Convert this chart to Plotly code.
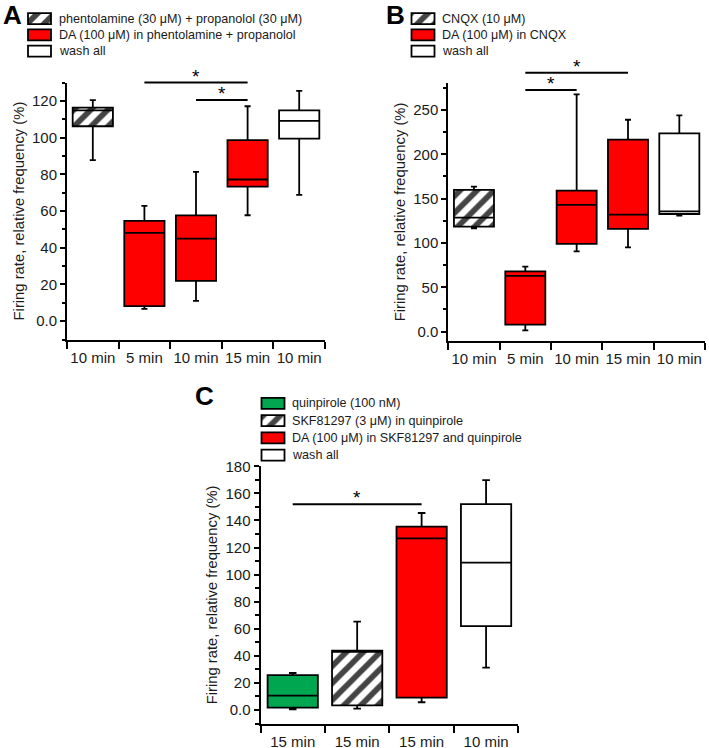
import plotly.graph_objects as go

W, H = 709, 748
FONT = "Liberation Sans, Arial, sans-serif"

# ---------------- data ----------------
# Panel A
A_cats = ["10 min", "5 min", "10 min", "15 min", "10 min"]
A_q1 = [106.2, 8.2, 22.0, 73.3, 99.5]
A_med = [114.9, 48.1, 45.0, 77.2, 109.1]
A_q3 = [116.4, 54.6, 57.6, 98.6, 114.9]
A_lo = [87.7, 6.7, 11.1, 57.7, 68.8]
A_hi = [120.4, 62.8, 81.3, 117.1, 125.5]
A_fill = ["hatch", "red", "red", "red", "white"]
A_legend = ["phentolamine (30 μM) + propanolol (30 μM)",
            "DA (100 μM) in phentolamine + propanolol",
            "wash all"]
A_legend_fill = ["hatch", "red", "white"]
A_yticks = [0, 20, 40, 60, 80, 100, 120]
A_yticktext = ["0.0", "20", "40", "60", "80", "100", "120"]
A_sig = [(1, 3, 130.0), (2, 3, 120.5)]

# Panel B
B_cats = ["10 min", "5 min", "10 min", "15 min", "10 min"]
B_q1 = [118.4, 7.9, 98.9, 115.8, 132.7]
B_med = [128.6, 63.0, 143.0, 132.0, 135.7]
B_q3 = [160.0, 68.0, 159.0, 216.5, 223.7]
B_lo = [116.5, 1.5, 90.6, 95.0, 131.0]
B_hi = [163.5, 73.3, 267.7, 239.0, 244.0]
B_fill = ["hatch", "red", "red", "red", "white"]
B_legend = ["CNQX (10 μM)", "DA (100 μM) in CNQX", "wash all"]
B_legend_fill = ["hatch", "red", "white"]
B_yticks = [0, 50, 100, 150, 200, 250]
B_yticktext = ["0.0", "50", "100", "150", "200", "250"]
B_sig = [(1, 3, 292.0), (1, 2, 272.5)]

# Panel C
C_cats = ["15 min", "15 min", "15 min", "10 min"]
C_q1 = [1.7, 3.4, 9.1, 62.0]
C_med = [10.6, 43.0, 126.8, 108.8]
C_q3 = [25.8, 43.8, 135.4, 152.1]
C_lo = [0.5, 1.0, 5.7, 31.3]
C_hi = [27.3, 65.2, 145.5, 169.8]
C_fill = ["green", "hatch", "red", "white"]
C_legend = ["quinpirole (100 nM)", "SKF81297 (3 μM) in quinpirole",
            "DA (100 μM) in SKF81297 and quinpirole", "wash all"]
C_legend_fill = ["green", "hatch", "red", "white"]
C_yticks = [0, 20, 40, 60, 80, 100, 120, 140, 160, 180]
C_yticktext = ["0.0", "20", "40", "60", "80", "100", "120", "140", "160", "180"]
C_sig = [(0, 2, 152.0)]

YTITLE = "Firing rate, relative frequency (%)"

# ---------------- styles ----------------
COLORS = {"hatch": "white", "red": "#ff0000", "white": "white", "green": "#00a650"}
PATTERN = {"hatch": "/", "red": "", "white": "", "green": ""}
TXT = "#1a1a1a"


def px(p):
    return p / W


def py(p):
    return 1 - p / H


panels = [
    dict(letter="A", ax="", cats=A_cats, q1=A_q1, med=A_med, q3=A_q3, lo=A_lo, hi=A_hi,
         fill=A_fill, leg=A_legend, legfill=A_legend_fill, yt=A_yticks, ytt=A_yticktext,
         sig=A_sig, xdom=(67, 325), ydom=(82.6, 339.5), yr=(-10, 130), minor0=10, minord=20,
         letter_pos=(12, 14.5), leg_x=28, leg_y0=18.7, leg_dy=16.2),
    dict(letter="B", ax="2", cats=B_cats, q1=B_q1, med=B_med, q3=B_q3, lo=B_lo, hi=B_hi,
         fill=B_fill, leg=B_legend, legfill=B_legend_fill, yt=B_yticks, ytt=B_yticktext,
         sig=B_sig, xdom=(448.3, 705), ydom=(83.4, 340.5), yr=(-10, 280), minor0=25, minord=50,
         letter_pos=(395, 15), leg_x=411.5, leg_y0=18.7, leg_dy=16.2),
    dict(letter="C", ax="3", cats=C_cats, q1=C_q1, med=C_med, q3=C_q3, lo=C_lo, hi=C_hi,
         fill=C_fill, leg=C_legend, legfill=C_legend_fill, yt=C_yticks, ytt=C_yticktext,
         sig=C_sig, xdom=(260.5, 518.3), ydom=(466.3, 723.5), yr=(-10, 180), minor0=10, minord=20,
         letter_pos=(204, 396.5), leg_x=261.5, leg_y0=403.3, leg_dy=17.3),
]

fig = go.Figure()
shapes = []
annotations = []
layout_axes = {}

BOXW = 0.78
HATCH = dict(fgcolor="black", bgcolor="white", size=12, solidity=0.48, fgopacity=1)

for p in panels:
    n = len(p["cats"])
    xs = list(range(n))
    xa = "x" + p["ax"]
    ya = "y" + p["ax"]
    colors = [COLORS[f] for f in p["fill"]]
    pats = [PATTERN[f] for f in p["fill"]]
    # filled box body
    fig.add_trace(go.Bar(
        x=xs, y=[b - a for a, b in zip(p["q1"], p["q3"])], base=p["q1"],
        width=BOXW, xaxis=xa, yaxis=ya, showlegend=False, hoverinfo="skip",
        marker=dict(color=colors, line=dict(width=0), pattern=dict(shape=pats, **HATCH)),
    ))
    # outlines, medians and whiskers
    fig.add_trace(go.Box(
        x=xs, q1=p["q1"], median=p["med"], q3=p["q3"],
        lowerfence=p["lo"], upperfence=p["hi"],
        width=BOXW, whiskerwidth=0.15, xaxis=xa, yaxis=ya,
        fillcolor="rgba(0,0,0,0)", line=dict(color="black", width=1.8),
        showlegend=False, hoverinfo="skip", boxpoints=False,
    ))

    x0, x1 = p["xdom"]
    y0, y1 = p["ydom"]
    ydom_paper = (py(y1), py(y0))
    layout_axes["xaxis" + p["ax"]] = dict(
        domain=[px(x0), px(x1)], anchor=ya, range=[-0.5, n - 0.5], automargin=False,
        tickmode="array", tickvals=xs, ticktext=p["cats"], ticks="",
        ticklabelstandoff=3,
        showline=True, linewidth=2, linecolor="black", showgrid=False, zeroline=False,
        tickfont=dict(size=15, color=TXT, family=FONT),
        minor=dict(tickmode="linear", tick0=-0.5, dtick=1, ticks="outside",
                   ticklen=7, tickwidth=2, tickcolor="black", showgrid=False),
    )
    layout_axes["yaxis" + p["ax"]] = dict(
        domain=list(ydom_paper), anchor=xa, range=list(p["yr"]), automargin=False,
        tickmode="array", tickvals=p["yt"], ticktext=p["ytt"],
        ticks="outside", ticklen=5, tickwidth=1.6, tickcolor="black",
        showline=True, linewidth=2, linecolor="black", showgrid=False, zeroline=False,
        tickfont=dict(size=15, color=TXT, family=FONT),
        title=dict(text=YTITLE, font=dict(size=14.8, color=TXT, family=FONT), standoff=4),
        minor=dict(tickmode="linear", tick0=p["minor0"], dtick=p["minord"], ticks="outside",
                   ticklen=3.5, tickwidth=1.6, tickcolor="black", showgrid=False),
    )

    # significance bars
    r0, r1 = p["yr"]

    def to_paper(v, r0=r0, r1=r1, d=ydom_paper):
        return d[0] + (v - r0) / (r1 - r0) * (d[1] - d[0])

    for (a, b, v) in p["sig"]:
        yp = to_paper(v)
        shapes.append(dict(type="line", xref=xa, yref="paper", x0=a, x1=b, y0=yp, y1=yp,
                           line=dict(color="black", width=2)))
        annotations.append(dict(xref=xa, yref="paper", x=(a + b) / 2, y=yp, text="*",
                                showarrow=False, yanchor="bottom", yshift=-6,
                                font=dict(size=19, color="black", family=FONT)))

    # panel letter
    lx, ly = p["letter_pos"]
    annotations.append(dict(xref="paper", yref="paper", x=px(lx), y=py(ly), text=p["letter"],
                            showarrow=False, xanchor="center", yanchor="middle",
                            font=dict(size=26, color="black", family=FONT, weight="bold")))

    # legend: swatches drawn as bars on a pixel overlay axis, labels as annotations
    nl = len(p["leg"])
    rows = [p["leg_y0"] + i * p["leg_dy"] for i in range(nl)]
    fig.add_trace(go.Bar(
        orientation="h", y=rows, x=[23] * nl, base=[p["leg_x"]] * nl, width=11,
        xaxis="x4", yaxis="y4", showlegend=False, hoverinfo="skip",
        marker=dict(color=[COLORS[f] for f in p["legfill"]],
                    line=dict(color="black", width=1.8),
                    pattern=dict(shape=[PATTERN[f] for f in p["legfill"]], **HATCH)),
    ))
    for txt, yc in zip(p["leg"], rows):
        annotations.append(dict(xref="paper", yref="paper", x=px(p["leg_x"] + 28.5), y=py(yc),
                                text=txt, showarrow=False, xanchor="left", yanchor="middle",
                                font=dict(size=12.6, color=TXT, family=FONT)))

# overlay axis in page pixel units (for legend swatches)
layout_axes["xaxis4"] = dict(domain=[0, 1], range=[0, W], visible=False, anchor="y4",
                             fixedrange=True, automargin=False)
layout_axes["yaxis4"] = dict(domain=[0, 1], range=[H, 0], visible=False, anchor="x4",
                             fixedrange=True, automargin=False)

fig.update_layout(
    width=W, height=H, margin=dict(l=0, r=0, t=0, b=0, autoexpand=False),
    paper_bgcolor="white", plot_bgcolor="rgba(0,0,0,0)",
    barmode="overlay", boxmode="overlay", showlegend=False,
    font=dict(family=FONT, color=TXT),
    shapes=shapes, annotations=annotations,
    **layout_axes,
)

# remove the default 8px page margin so the figure sits at the window's top-left corner
fig.write_html("out.html", config={"displayModeBar": False},
               post_script="document.body.style.margin='0px';")
